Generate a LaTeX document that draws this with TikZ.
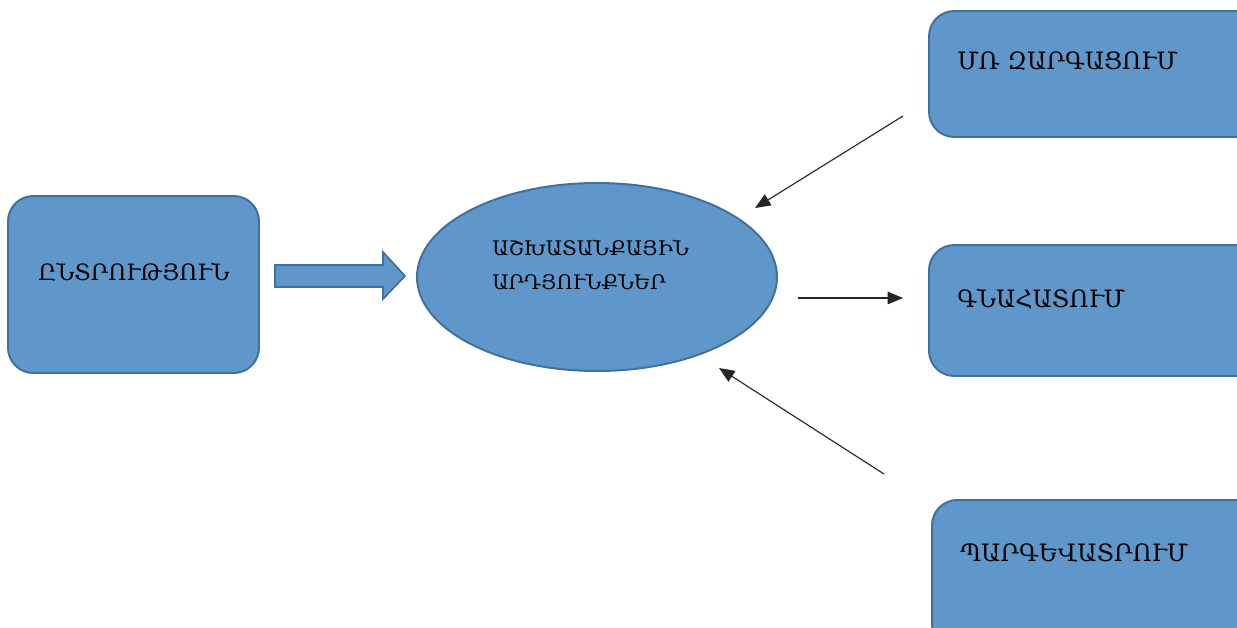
\documentclass[tikz,border=0pt]{standalone}
\usepackage{fontspec}
\setmainfont{DejaVu Serif}
\usetikzlibrary{shapes.geometric,shapes.arrows,arrows.meta}
\definecolor{boxfill}{HTML}{5F97CA}
\definecolor{boxline}{HTML}{41709C}
\tikzset{
  rbox/.style={draw=boxline, fill=boxfill, line width=1.4pt, rounded corners=18pt},
  lbl/.style={anchor=west, inner sep=0pt, font=\fontsize{17}{20}\selectfont},
  conn/.style={-{Triangle[length=11pt,width=9pt]}, line width=0.8pt, black!85},
}
\begin{document}
\begin{tikzpicture}[x=0.025cm, y=-0.025cm]
\useasboundingbox (0,0) rectangle (1237,627);
\clip (0,0) rectangle (1237,627);
% boxes
\draw[rbox] (8,196) rectangle (259,373);
\node[lbl, font=\fontsize{16}{20}\selectfont] (t1) at (38,272) {ԸՆՏՐՈՒԹՅՈՒՆ};
\draw[rbox] (929,11) rectangle (1262,137);
\node[lbl] (t2) at (957,61) {ՄՌ ԶԱՐԳԱՑՈՒՄ};
\draw[rbox] (929,245) rectangle (1262,376);
\node[lbl] (t3) at (957,299) {ԳՆԱՀԱՏՈՒՄ};
\draw[rbox] (932,500) rectangle (1262,650);
\node[lbl] (t4) at (960,553) {ՊԱՐԳԵՎԱՏՐՈՒՄ};
% ellipse
\node[ellipse, draw=boxline, fill=boxfill, line width=1.4pt, minimum width=360*0.025cm, minimum height=188*0.025cm] (ell) at (597,277) {};
\node[lbl, font=\fontsize{14.3}{24}\selectfont, align=left, anchor=west] (et) at (492,265)
  {ԱՇԽԱՏԱՆՔԱՅԻՆ\\ԱՐԴՅՈՒՆՔՆԵՐ};
% block arrow
\draw[draw=boxline, fill=boxfill, line width=1.2pt] (275,265) -- (383,265) -- (383,252) -- (405,276) -- (383,299) -- (383,287) -- (275,287) -- cycle;
% thin arrows
\coordinate (a1s) at (903,116); \coordinate (a1e) at (755,208);
\coordinate (a2s) at (798,298); \coordinate (a2e) at (903,298);
\coordinate (a3s) at (884,474); \coordinate (a3e) at (719,368);
\draw[conn] (a1s) -- (a1e);
\draw[conn] (a2s) -- (a2e);
\draw[conn] (a3s) -- (a3e);
\end{tikzpicture}
\end{document}
